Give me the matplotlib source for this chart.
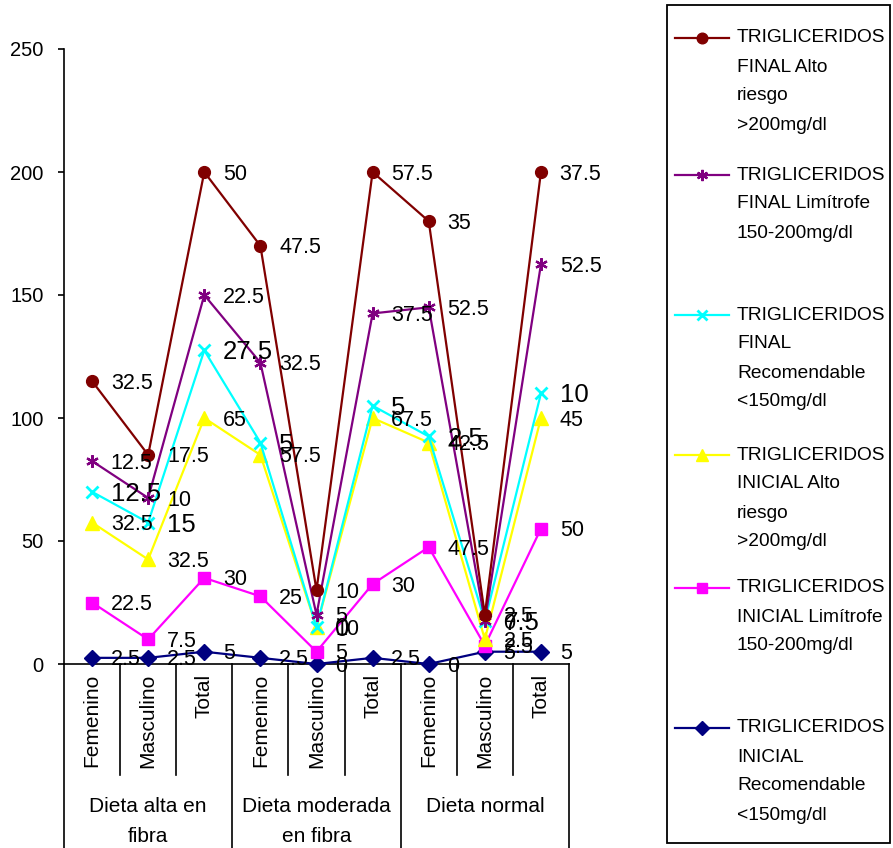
import matplotlib
matplotlib.use("Agg")
import matplotlib.pyplot as plt
from matplotlib.patches import Rectangle
import numpy as np

plt.rcParams['font.family'] = ['Liberation Sans', 'DejaVu Sans']

# Category axis: subgroup within each diet group
subcats = ["Femenino", "Masculino", "Total"] * 3
groups = [["Dieta alta en", "fibra"], ["Dieta moderada", "en fibra"], ["Dieta normal"]]

# Percentages per series (stacked in this order, bottom first)
ini_rec = [2.5, 2.5, 5, 2.5, 0, 2.5, 0, 5, 5]
ini_lim = [22.5, 7.5, 30, 25, 5, 30, 47.5, 2.5, 50]
ini_alto = [32.5, 32.5, 65, 57.5, 10, 67.5, 42.5, 2.5, 45]
fin_rec = [12.5, 15, 27.5, 5, 0, 5, 2.5, 7.5, 10]
fin_lim = [12.5, 10, 22.5, 32.5, 5, 37.5, 52.5, 0, 52.5]
fin_alto = [32.5, 17.5, 50, 47.5, 10, 57.5, 35, 2.5, 37.5]

series = [
    ("TRIGLICERIDOS\nINICIAL\nRecomendable\n<150mg/dl", ini_rec, "#000080", "D", 8, 1.0, 15.5),
    ("TRIGLICERIDOS\nINICIAL Limítrofe\n150-200mg/dl", ini_lim, "#FF00FF", "s", 8, 1.0, 15.5),
    ("TRIGLICERIDOS\nINICIAL Alto\nriesgo\n>200mg/dl", ini_alto, "#FFFF00", "^", 9.5, 1.0, 15.5),
    ("TRIGLICERIDOS\nFINAL\nRecomendable\n<150mg/dl", fin_rec, "#00FFFF", "x", 8, 2.0, 18.5),
    ("TRIGLICERIDOS\nFINAL Limítrofe\n150-200mg/dl", fin_lim, "#800080", (6, 2, 0), 9, 1.6, 15.5),
    ("TRIGLICERIDOS\nFINAL Alto\nriesgo\n>200mg/dl", fin_alto, "#800000", "o", 8.5, 1.0, 15.5),
]

W, H = 893, 848
fig = plt.figure(figsize=(W / 100, H / 100), dpi=100)

x0, x1, y0, y1 = 64, 569, 664, 49
ax = fig.add_axes([x0 / W, 1 - y0 / H, (x1 - x0) / W, (y0 - y1) / H])

x = np.arange(len(subcats))
cum = np.zeros(len(subcats))
stacks = []
for name, vals, color, marker, ms, mew, fs in series:
    cum = cum + np.array(vals)
    stacks.append(cum.copy())
    ax.plot(x, cum, color=color, lw=1.6, marker=marker, markersize=ms,
            markerfacecolor=color, markeredgecolor=color, markeredgewidth=mew,
            clip_on=False, zorder=3)

for (name, vals, color, marker, ms, mew, fs), top in zip(series, stacks):
    for xi, v, yi in zip(x, vals, top):
        ax.annotate(f"{v:g}", (xi, yi), xytext=(13.5, -1.5), textcoords="offset points",
                    ha="left", va="center", fontsize=fs, color="black",
                    annotation_clip=False, zorder=5)

ax.set_xlim(-0.5, len(subcats) - 0.5)
ax.set_ylim(0, 250)
ax.set_yticks([0, 50, 100, 150, 200, 250])
ax.tick_params(axis="y", direction="out", length=4.5, width=1.2, pad=10, labelsize=14.5)
ax.set_xticks([])
for s in ["top", "right"]:
    ax.spines[s].set_visible(False)
ax.spines["left"].set_linewidth(1.2)
ax.spines["bottom"].set_linewidth(1.2)

# Category table below the axis
trans = ax.get_xaxis_transform()
inner_end = (y0 - 775) / (y0 - y1)
outer_end = (y0 - H) / (y0 - y1)
for k in range(len(subcats) + 1):
    bx = k - 0.5
    yend = outer_end if k % 3 == 0 else inner_end
    ax.plot([bx, bx], [0, yend], color="black", lw=1.2, transform=trans, clip_on=False)

lab_top = (y0 - 674) / (y0 - y1)
for xi, lab in zip(x, subcats):
    ax.text(xi, lab_top, lab, rotation=90, ha="center", va="top", fontsize=15,
            transform=trans)

for gi, lines in enumerate(groups):
    gx = gi * 3 + 1
    for li, line in enumerate(lines):
        ty = (y0 - (806 + 30 * li)) / (y0 - y1)
        ax.text(gx, ty, line, ha="center", va="center", fontsize=15, transform=trans)

# Legend panel, laid out in pixel units
lg = fig.add_axes([0, 0, 1, 1], facecolor="none")
lg.set_xlim(0, W)
lg.set_ylim(H, 0)
lg.axis("off")
lg.add_patch(Rectangle((667, 5), 223, 838, fill=False, edgecolor="black", lw=1.3))

entry_y = [38, 175, 315, 455, 588, 728]
for (name, vals, color, marker, ms, mew, fs), ey in zip(series[::-1], entry_y):
    lg.plot([675, 729], [ey, ey], color=color, lw=1.6)
    lg.plot([702], [ey], marker=marker, markersize=ms * 0.9, color=color,
            markeredgecolor=color, markeredgewidth=mew)
    for li, line in enumerate(name.split("\n")):
        lg.text(737, ey + 29 * li, line, ha="left", va="center", fontsize=13.8)

fig.savefig("out.png", dpi=100)
